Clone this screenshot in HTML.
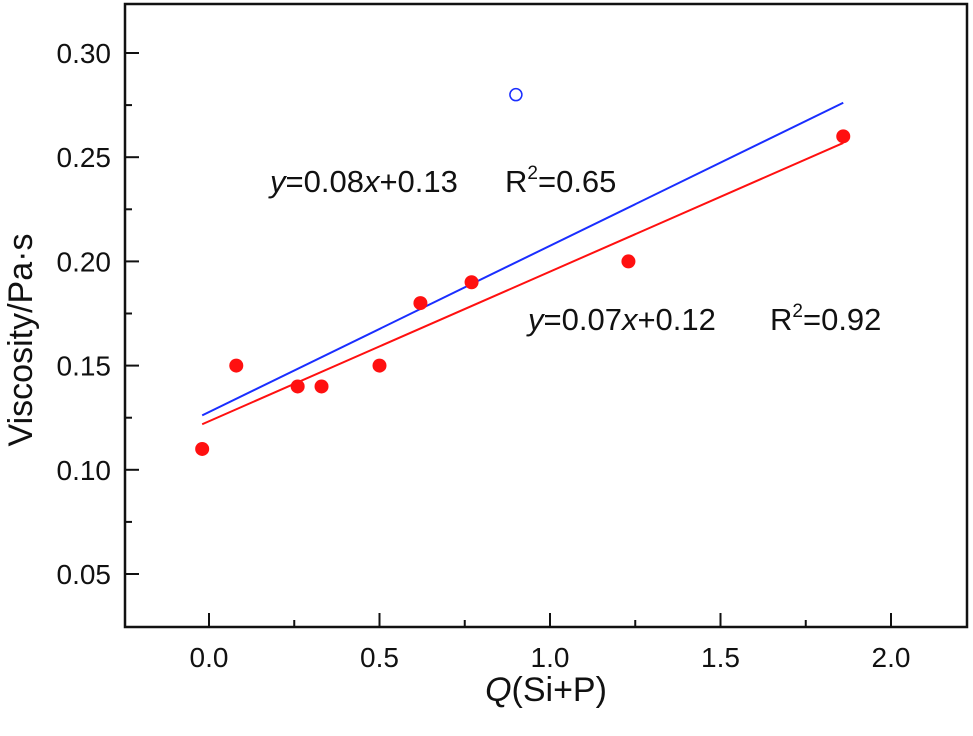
<!DOCTYPE html>
<html><head><meta charset="utf-8"><style>
body{margin:0;background:#fff}
svg text{font-family:"Liberation Sans",sans-serif;fill:#111}
</style></head><body>
<svg width="973" height="731" id="c">
<g id="axes"></g><g id="marks"></g>
<text x="270" y="192" font-size="31"><tspan font-style="italic">y</tspan>=0.08<tspan font-style="italic">x</tspan>+0.13</text>
<text x="505" y="192" font-size="31">R<tspan font-size="19" dy="-13">2</tspan><tspan dy="13">=0.65</tspan></text>
<text x="528" y="330" font-size="31"><tspan font-style="italic">y</tspan>=0.07<tspan font-style="italic">x</tspan>+0.12</text>
<text x="770" y="330" font-size="31">R<tspan font-size="19" dy="-13">2</tspan><tspan dy="13">=0.92</tspan></text>
<text x="546" y="701" font-size="34" text-anchor="middle"><tspan font-style="italic">Q</tspan>(Si+P)</text>
<text transform="translate(32,340) rotate(-90)" font-size="34" text-anchor="middle">Viscosity/Pa·s</text>
</svg>
<script>
const xVals=[-0.02,0.08,0.26,0.33,0.5,0.62,0.77,1.23,1.86];
const yVals=[0.11,0.15,0.14,0.14,0.15,0.18,0.19,0.20,0.26];
const openX=[0.90];
const openY=[0.28];
const xTicks=[0.0,0.5,1.0,1.5,2.0];
const yTicks=[0.05,0.10,0.15,0.20,0.25,0.30];
const blueFit=[0.0798,0.1277];
const redFit=[0.0718,0.1233];
const fitRange=[-0.02,1.86];
const NS="http://www.w3.org/2000/svg";
const X=v=>209+v*341;
const Y=v=>574-(v-0.05)*2084;
const axes=document.getElementById('axes'),marks=document.getElementById('marks');
function mk(p,tag,at){const e=document.createElementNS(NS,tag);for(const k in at)e.setAttribute(k,at[k]);p.appendChild(e);return e;}
const f=mk(axes,'rect',{x:125,y:4,width:842,height:623,fill:'none',stroke:'#111','stroke-width':2.5});


xTicks.forEach((t,i)=>{
 const l=mk(axes,'line',{x1:X(t),x2:X(t),y1:627,y2:613,stroke:'#111','stroke-width':2});
 
 
 if(i<xTicks.length-1){const m=mk(axes,'line',{x1:X(t+0.25),x2:X(t+0.25),y1:627,y2:620,stroke:'#111','stroke-width':2});
 
 }
 const tx=mk(axes,'text',{x:X(t),y:667,'font-size':28,'text-anchor':'middle'});tx.textContent=t.toFixed(1);
 
 
});
yTicks.forEach((t,i)=>{
 const l=mk(axes,'line',{x1:125,x2:139,y1:Y(t),y2:Y(t),stroke:'#111','stroke-width':2});
 
 
 if(i<yTicks.length-1){const m=mk(axes,'line',{x1:125,x2:132,y1:Y(t+0.025),y2:Y(t+0.025),stroke:'#111','stroke-width':2});
 
 }
 const tx=mk(axes,'text',{x:111,y:Y(t)+10,'font-size':28,'text-anchor':'end'});tx.textContent=t.toFixed(2);
 
 
});
[[blueFit,'#1a2eff','fit-line-blue'],[redFit,'#ff1010','fit-line-red']].forEach(([c,col,n])=>{
 const l=mk(marks,'line',{x1:X(fitRange[0]),y1:Y(c[0]*fitRange[0]+c[1]),x2:X(fitRange[1]),y2:Y(c[0]*fitRange[1]+c[1]),stroke:col,'stroke-width':2});
 
 
});
xVals.forEach((x,i)=>{
 const c=mk(marks,'circle',{cx:X(x),cy:Y(yVals[i]),r:7,fill:'#ff1010'});
 
 
});
openX.forEach((x,i)=>{
 const c=mk(marks,'circle',{cx:X(x),cy:Y(openY[i]),r:6,fill:'none',stroke:'#1a2eff','stroke-width':1.5});
 
 
});
</script>
</body></html>
